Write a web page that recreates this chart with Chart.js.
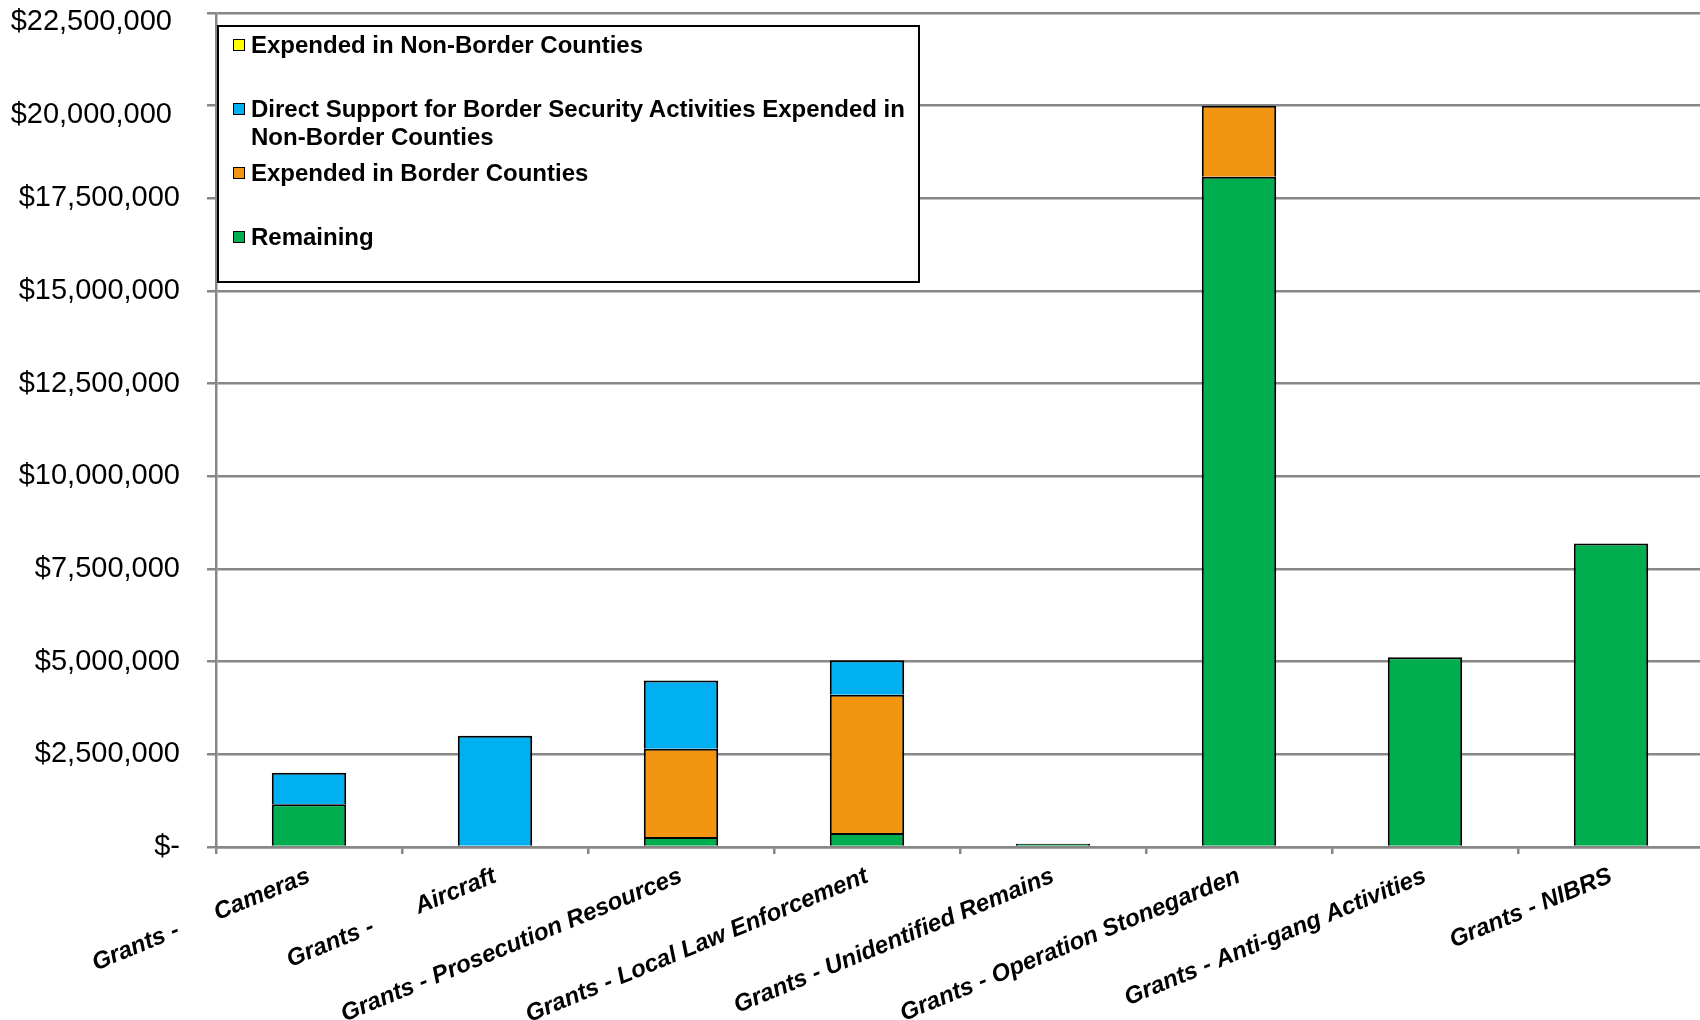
<!DOCTYPE html>
<html>
<head>
<meta charset="utf-8">
<script src="https://cdn.jsdelivr.net/npm/chart.js@4.4.1/dist/chart.umd.min.js"></script>
<style>
  html, body { margin: 0; padding: 0; background: #fff; overflow: hidden; }
  #wrap { position: relative; width: 1700px; height: 1020px; overflow: hidden; }
  #legend {
    position: absolute; left: 217px; top: 25px; width: 703px; height: 258px;
    box-sizing: border-box; border: 2px solid #000; background: #fff;
    padding: 4px 0 0 14px;
    font: bold 24px "Liberation Sans", Arial, sans-serif; color: #000;
  }
  .item { position: relative; height: 64px; padding-left: 18px; line-height: 28px; }
  .swatch { position: absolute; left: 0; top: 8px; width: 12px; height: 12px; box-sizing: border-box; border: 1.5px solid #000; }
</style>
</head>
<body>
<div id="wrap">
  <!-- the plot runs a few px past the right edge in the original, so the canvas is a bit wider than the page -->
  <canvas id="chart" width="1704" height="1020"></canvas>
  <div id="legend"></div>
</div>
<script>
// categories (the spaces in the first two labels are in the source)
const categories = [
  'Grants -\u00a0\u00a0\u00a0\u00a0\u00a0\u00a0Cameras',
  'Grants -\u00a0\u00a0\u00a0\u00a0\u00a0\u00a0\u00a0Aircraft',
  'Grants - Prosecution Resources',
  'Grants - Local Law Enforcement',
  'Grants - Unidentified Remains',
  'Grants - Operation Stonegarden',
  'Grants - Anti-gang Activities',
  'Grants - NIBRS'
];

// series, bottom of the stack first
const remaining       = [1150000, 0, 270000, 380000, 90000, 18080000, 5120000, 8190000];
const borderCounties  = [0, 0, 2380000, 3730000, 0, 1920000, 0, 0];
const directSupport   = [850000, 3000000, 1840000, 930000, 0, 0, 0, 0];
const nonBorder       = [0, 0, 0, 0, 0, 0, 0, 0];

const yTicks = [0, 2500000, 5000000, 7500000, 10000000, 12500000, 15000000, 17500000, 20000000, 22500000];

const FONT = '"Liberation Sans", Arial, sans-serif';
const GRID = '#878787';

// Excel nudged the two top labels down and left a bit
const nudged = v => v >= 20000000;

const chart = new Chart(document.getElementById('chart'), {
  type: 'bar',
  data: {
    labels: categories,
    datasets: [
      { label: 'Remaining', data: remaining, backgroundColor: '#00AE4F' },
      { label: 'Expended in Border Counties', data: borderCounties, backgroundColor: '#F29611' },
      { label: 'Direct Support for Border Security Activities Expended in Non-Border Counties', data: directSupport, backgroundColor: '#00B0F0' },
      { label: 'Expended in Non-Border Counties', data: nonBorder, backgroundColor: '#FFFF00' }
    ]
  },
  options: {
    responsive: false,
    animation: false,
    datasets: { bar: { borderColor: '#000', borderWidth: 2, categoryPercentage: 1, barPercentage: 0.4 } },
    layout: { padding: 0 },
    plugins: { legend: { display: false }, tooltip: { enabled: false } },
    scales: {
      x: {
        stacked: true,
        // fixed room for the slanted labels so the plot bottom sits where Excel put it
        afterFit: axis => { axis.height = 173; },
        grid: { drawOnChartArea: false, color: GRID, lineWidth: 2.5, tickLength: 7 },
        border: { color: GRID, width: 2.5, z: 1 },
        ticks: {
          autoSkip: false, minRotation: 22.5, maxRotation: 22.5, padding: 8, color: '#000',
          font: { family: FONT, size: 24, style: 'italic', weight: 'bold' }
        }
      },
      y: {
        stacked: true,
        min: 0,
        max: 22500000,
        afterBuildTicks: axis => { axis.ticks = yTicks.map(value => ({ value })); },
        afterFit: axis => { axis.width = 216; axis.paddingTop = 13; },
        grid: { color: GRID, lineWidth: 2.5, tickLength: 9 },
        border: { color: GRID, width: 2.5 },
        ticks: {
          padding: 27, color: '#000',
          font: ctx => ({ family: FONT, size: 29, lineHeight: ctx.tick && nudged(ctx.tick.value) ? 0.62 : 1.2 }),
          callback: v => {
            const text = v === 0 ? '$-' : '$' + v.toLocaleString('en-US');
            return nudged(v) ? ['', text + '\u00a0'] : text;
          }
        }
      }
    }
  }
});

// legend box, Excel order (top of the stack first)
document.getElementById('legend').innerHTML = chart.data.datasets.slice().reverse().map(ds =>
  `<div class="item"><span class="swatch" style="background:${ds.backgroundColor}"></span>${ds.label}</div>`
).join('');
</script>
</body>
</html>
